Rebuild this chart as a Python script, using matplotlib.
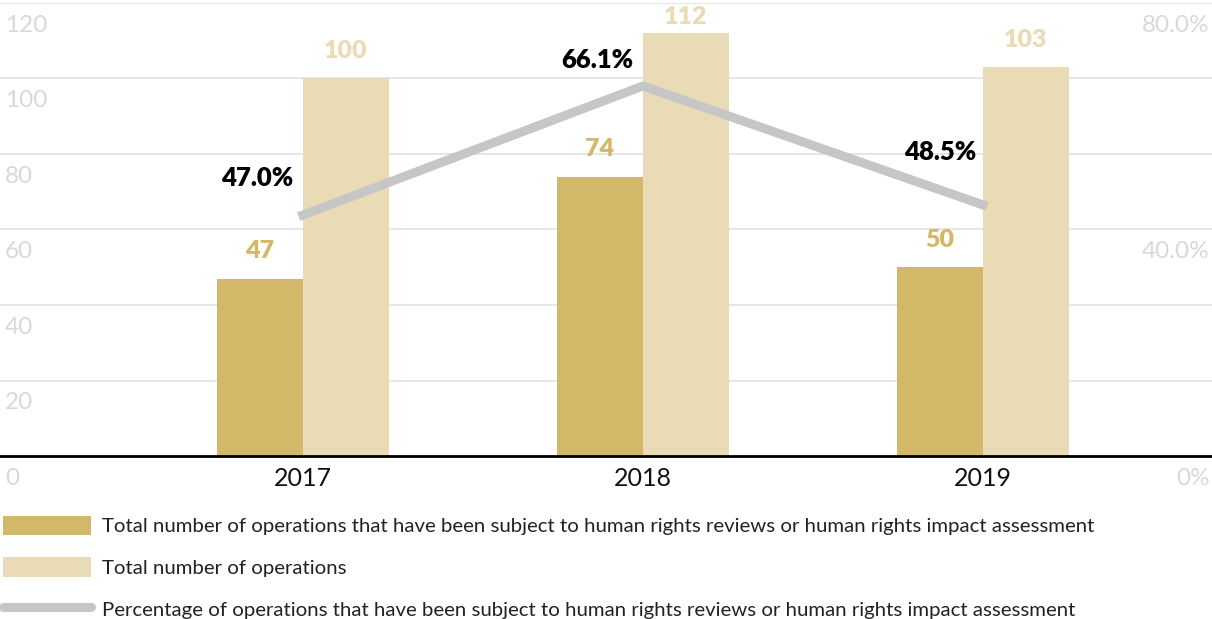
import matplotlib
matplotlib.use('Agg')
import matplotlib.pyplot as plt
from matplotlib.patches import Patch
from matplotlib.lines import Line2D
import numpy as np

plt.rcParams['font.family'] = ['Lato', 'DejaVu Sans']

years = ['2017', '2018', '2019']
reviewed = [47, 74, 50]
total_ops = [100, 112, 103]
pct_reviewed = [47.0, 66.1, 48.5]

left_ticks = [0, 20, 40, 60, 80, 100, 120]
right_labels = {0: '0%', 60: '40.0%', 120: '80.0%'}

DARK = '#d4b86a'
LIGHT = '#e8dbb5'
GREY_LINE = '#c6c6c6'
TICK_GREY = '#d8d8d8'

fig = plt.figure(figsize=(12.12, 6.19), dpi=100)
ax = fig.add_axes([0, 0.2633, 1, 0.7319])

x = np.arange(len(years))
w = 0.253
ax.bar(x - w / 2, reviewed, w, color=DARK, zorder=2)
ax.bar(x + w / 2, total_ops, w, color=LIGHT, zorder=2)

# value labels above the bars (kept inside the plot near the top)
for xs, vals, col in [(x - w / 2, reviewed, DARK), (x + w / 2, total_ops, LIGHT)]:
    for xi, v in zip(xs, vals):
        ax.text(xi, min(v + 7.2, 116.3), str(v), ha='center', va='center',
                fontsize=18, fontweight='heavy', color=col)

ax.set_xlim(-0.891, 2.674)
ax.set_ylim(0, 120)
ax.set_yticks(left_ticks)
ax.set_yticklabels([])
ax.tick_params(axis='y', length=0)
ax.grid(axis='y', color='#e0e0e0', linewidth=1.2, zorder=0)
ax.set_axisbelow(True)
for s in ax.spines.values():
    s.set_visible(False)
ax.axhline(0, color='black', linewidth=2, zorder=3, clip_on=False)

ax.set_xticks(x)
ax.set_xticklabels(years, fontsize=18, color='#111111')
ax.tick_params(axis='x', length=0, pad=8)

# axis labels sit just under each gridline
ytrans = ax.get_yaxis_transform()
for t in left_ticks:
    ax.annotate(str(t), (0.004, t), xycoords=ytrans, xytext=(0, -16),
                textcoords='offset points', ha='left', va='center',
                fontsize=17.5, color=TICK_GREY)
for t, lab in right_labels.items():
    ax.annotate(lab, (0.998, t), xycoords=ytrans, xytext=(0, -16),
                textcoords='offset points', ha='right', va='center',
                fontsize=17.5, color=TICK_GREY)

# percentage line on its own scale
ax2 = ax.twinx()
ax2.set_ylim(0.1132, 0.7839)
ax2.axis('off')
pct = np.array(pct_reviewed) / 100
ax2.plot(x, pct, color=GREY_LINE, linewidth=6.5, zorder=4)
offsets = [(-7, 27), (-7, 19), (-5, 38)]
for xi, v, p, off in zip(x, pct, pct_reviewed, offsets):
    ax2.annotate(f'{p:.1f}%', (xi, v), xytext=off, textcoords='offset points',
                 ha='right', va='center', fontsize=18.5, fontweight='heavy',
                 color='black')

handles = [
    Patch(facecolor=DARK, edgecolor='none'),
    Patch(facecolor=LIGHT, edgecolor='none'),
    Line2D([0], [0], color=GREY_LINE, linewidth=6.5, solid_capstyle='round'),
]
labels = [
    'Total number of operations that have been subject to human rights reviews or human rights impact assessment',
    'Total number of operations',
    'Percentage of operations that have been subject to human rights reviews or human rights impact assessment',
]
fig.legend(handles, labels, loc='upper left', bbox_to_anchor=(0.0, 0.172),
           frameon=False, fontsize=14.7, handlelength=4.3, handleheight=1.08,
           handletextpad=0.55, labelspacing=1.08, borderaxespad=0, borderpad=0.15,
           labelcolor='#222222')

fig.savefig('out.png', dpi=100)
